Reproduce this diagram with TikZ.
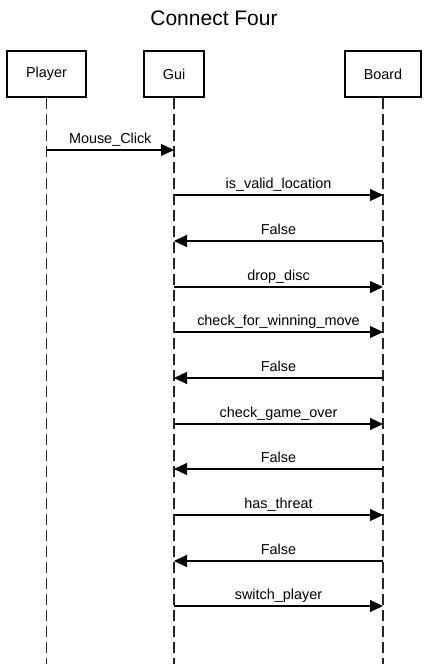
\documentclass[tikz,border=0pt]{standalone}
\usepackage{fontspec}
\setmainfont{Liberation Sans}
\usetikzlibrary{arrows.meta}
\begin{document}
\begin{tikzpicture}[x=1pt,y=-1pt,
  actor/.style={draw=black,line width=2.2pt,minimum height=46pt,inner sep=0pt,font=\fontsize{14.4}{16}\selectfont,fill=white},
  life/.style={line width=1.1pt,dash pattern=on 11pt off 5pt,draw=black!85},
  msg/.style={line width=1.1pt,-{Triangle[length=13pt,width=12pt]},draw=black},
  lbl/.style={font=\fontsize{14.4}{16}\selectfont,inner sep=0pt,anchor=base}]
\useasboundingbox (0,0) rectangle (428,664);
\node[font=\fontsize{21}{24}\selectfont] (title) at (214,18) {Connect Four};
% lifelines (drawn first, under boxes)
\coordinate (pend) at (46.5,664);
\coordinate (gend) at (174,664);
\coordinate (bend) at (383,664);
\node[actor,minimum width=79pt] (player) at (46.5,74) {Player};
\node[actor,minimum width=60pt] (gui) at (174,74) {Gui};
\node[actor,minimum width=76pt] (board) at (383,74) {Board};
\draw[life] (player.south) -- (pend);
\draw[life] (gui.south) -- (gend);
\draw[life] (board.south) -- (bend);
% messages
\coordinate (p1) at (46.5,150); \coordinate (g1) at (174,150);
\draw[msg] (p1) -- (g1) node[lbl,midway,yshift=7pt] {Mouse\_Click};
\foreach \y/\t/\d [count=\i] in {
  195/is\_valid\_location/r,
  241/False/l,
  287/drop\_disc/r,
  332/check\_for\_winning\_move/r,
  378/False/l,
  424/check\_game\_over/r,
  469/False/l,
  515/has\_threat/r,
  561/False/l,
  606/switch\_player/r}{
  \coordinate (ga\i) at (174,\y);
  \coordinate (ba\i) at (383,\y);
  \if\d r
    \draw[msg] (ga\i) -- (ba\i) node[lbl,midway,yshift=7pt] {\t};
  \else
    \draw[msg] (ba\i) -- (ga\i) node[lbl,midway,yshift=7pt] {\t};
  \fi
}
\end{tikzpicture}
\end{document}
